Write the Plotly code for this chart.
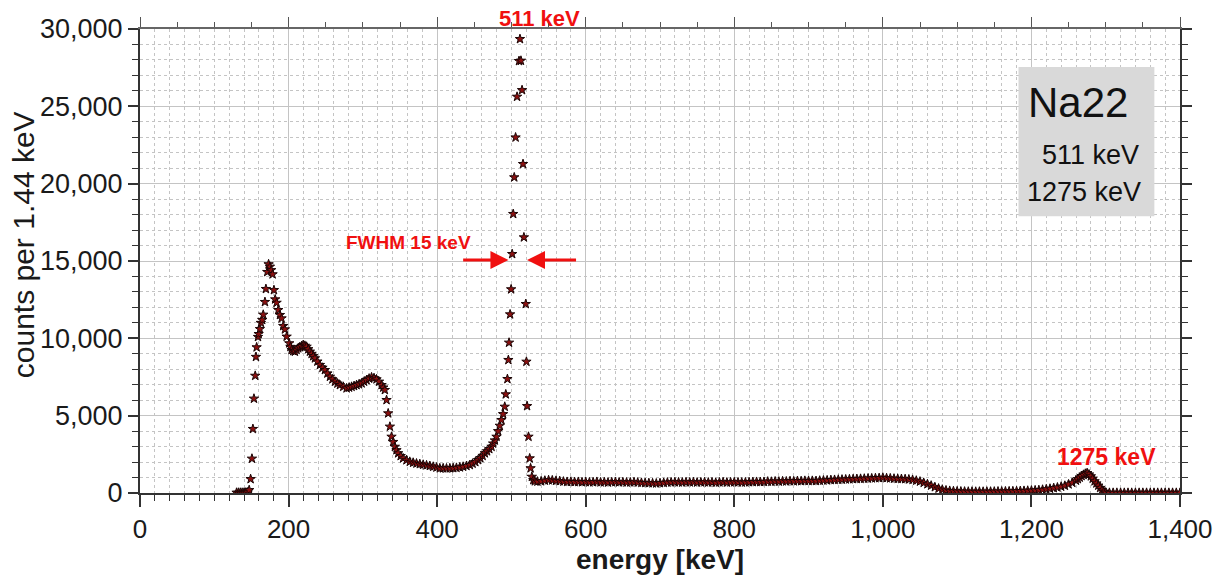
import plotly.graph_objects as go

# ---------------- data ----------------
# low-energy threshold + backscatter / Compton region (keV, counts per 1.44 keV)
e_low = [130.0, 132.5, 135.0, 137.5, 140.0, 142.5, 145.0, 147.0, 148.9, 150.7, 152.0, 153.4,
         155.1, 156.1, 157.0, 158.8, 159.7, 161.4, 162.8, 164.5, 165.9, 168.2, 169.5, 171.3,
         173.1, 174.9, 176.6, 178.5, 180.3, 182.0, 183.9, 186.1, 188.4, 190.6, 192.8, 195.1,
         197.4, 200.9, 202.5, 204.1, 206.3, 208.5, 210.8, 213.0, 215.2, 217.5, 219.7, 222.0,
         224.3, 226.5, 228.7, 231.0, 233.2, 235.5, 238.8, 242.2, 245.6, 248.9, 252.3, 255.7,
         259.0, 262.4, 265.8, 269.1, 273.6, 278.1, 281.5, 284.8, 288.2, 291.5, 294.9, 298.3,
         301.7, 305.0, 308.4, 311.7, 315.0, 318.4, 321.8, 325.2, 327.5, 329.6, 331.9, 334.1,
         336.4, 338.6, 340.8, 343.1, 345.3, 347.5, 350.9, 354.2, 358.7, 363.2, 367.7, 372.2,
         376.7, 381.2, 385.7, 390.2, 394.7, 399.1, 403.6, 408.1, 412.6, 417.1, 421.6, 426.0,
         430.5, 435.0, 439.5, 444.0, 447.7, 451.4, 455.1, 458.1, 461.2, 464.2, 467.2, 470.2,
         473.2, 475.4, 477.7, 479.9, 482.1, 484.3, 486.5, 488.8]
c_low = [20, 20, 20, 20, 20, 30, 40, 190, 900, 2220, 4140, 6100,
         7580, 8800, 9420, 10090, 10280, 10600, 11000, 11190, 11530, 12350, 13190, 14290,
         14790, 14630, 14410, 14140, 13120, 12520, 12300, 11830, 11510, 11290, 10800, 10580,
         10110, 9680, 9450, 9250, 9180, 9140, 9260, 9360, 9430, 9500, 9570, 9520,
         9460, 9300, 9140, 9000, 8850, 8710, 8500, 8280, 8100, 7950, 7730, 7520,
         7350, 7200, 7080, 6980, 6870, 6770, 6820, 6870, 6920, 6980, 7030, 7090,
         7200, 7300, 7400, 7480, 7430, 7350, 7200, 6980, 6820, 6660, 6010, 5150,
         4290, 3640, 3300, 2990, 2770, 2570, 2390, 2240, 2120, 2020, 1960, 1910,
         1870, 1830, 1790, 1750, 1700, 1650, 1600, 1600, 1590, 1600, 1610, 1630,
         1660, 1700, 1750, 1810, 1900, 2000, 2130, 2260, 2400, 2570, 2700, 2840,
         2990, 3200, 3400, 3640, 4000, 4350, 4720, 5100]

# 511 keV annihilation peak
e_511 = [491.0, 492.4, 494.6, 495.9, 496.8, 498.2, 499.6, 501.0, 502.4, 503.8, 505.6, 507.6,
         510.2, 511.5, 512.8, 514.3, 515.6, 516.8, 519.3, 520.2, 521.1, 523.0, 524.6, 525.8,
         527.5, 529.5, 531.5]
c_511 = [5580, 6380, 7370, 8600, 9720, 11550, 13170, 15450, 18040, 20410, 22990, 25620,
         27930, 29350, 27950, 26050, 21270, 16530, 12220, 8490, 5620, 3640, 2240, 1600,
         1050, 840, 760]

# Compton continuum of the 1275 keV line
e_cont = [535, 540, 545, 550, 555, 560, 565, 570, 575, 580, 585, 590, 595, 600, 605, 610,
          615, 620, 625, 630, 635, 640, 645, 650, 655, 660, 665, 670, 675, 680, 685, 690,
          695, 700, 705, 710, 715, 720, 725, 730, 735, 740, 745, 750, 755, 760, 765, 770,
          775, 780, 785, 790, 795, 800, 805, 810, 815, 820, 825, 830, 835, 840, 845, 850,
          855, 860, 865, 870, 875, 880, 885, 890, 895, 900, 905, 910, 915, 920, 925, 930,
          935, 940, 945, 950, 955, 960, 965, 970, 975, 980, 985, 990, 995, 1000, 1005, 1010,
          1015, 1020, 1025, 1030, 1035, 1040, 1045, 1050, 1055, 1060, 1065, 1070, 1075, 1080,
          1085, 1090, 1095, 1100, 1105, 1110, 1115, 1120, 1125, 1130, 1135, 1140, 1145, 1150,
          1155, 1160, 1165, 1170, 1175, 1180, 1185, 1190, 1195, 1200, 1205]
c_cont = [740, 760, 800, 830, 820, 790, 770, 740, 720, 730, 710, 720, 700, 710, 690, 700,
          720, 690, 700, 680, 700, 710, 690, 700, 680, 690, 700, 680, 660, 650, 640, 630,
          620, 640, 660, 680, 690, 700, 690, 680, 700, 690, 700, 680, 690, 700, 680, 690,
          670, 690, 700, 680, 690, 700, 690, 680, 690, 700, 710, 720, 710, 720, 740, 730,
          750, 740, 760, 750, 770, 760, 780, 770, 790, 780, 790, 780, 800, 810, 820, 840,
          850, 860, 870, 880, 890, 900, 910, 920, 930, 940, 950, 960, 970, 990, 960, 950,
          930, 920, 910, 900, 880, 850, 800, 740, 660, 570, 480, 380, 290, 220,
          170, 140, 120, 110, 100, 95, 90, 90, 85, 90, 85, 90, 90, 95,
          100, 100, 105, 110, 115, 120, 130, 140, 150, 160, 175]

# 1275 keV photopeak and empty tail
e_1275 = [1210, 1215, 1220, 1225, 1230, 1235, 1240, 1245, 1250, 1255, 1260, 1262.5, 1265,
          1267.5, 1270, 1272.5, 1275, 1277.5, 1280, 1282.5, 1285, 1287.5, 1290, 1292.5, 1295,
          1297.5, 1300, 1305, 1310, 1315, 1320, 1325, 1330, 1335, 1340, 1345, 1350, 1355,
          1360, 1365, 1370, 1375, 1380, 1385, 1390, 1395, 1400]
c_1275 = [190, 215, 245, 280, 320, 360, 410, 470, 560, 660, 800, 900, 1000,
          1100, 1180, 1250, 1290, 1200, 1080, 930, 760, 620, 480, 330, 190,
          90, 30, 15, 15, 15, 15, 15, 15, 15, 15, 15, 15, 15,
          15, 15, 15, 15, 15, 15, 15, 15, 15]

energy_kev = e_low + e_511 + e_cont + e_1275
counts = c_low + c_511 + c_cont + c_1275

x_ticks = [0, 200, 400, 600, 800, 1000, 1200, 1400]
y_ticks = [0, 5000, 10000, 15000, 20000, 25000, 30000]

RED = "#f01010"
FONT = "Liberation Sans, Arial, sans-serif"

fig = go.Figure()
fig.add_trace(go.Scatter(
    x=energy_kev, y=counts, mode="markers",
    marker=dict(symbol="star", size=7, color="#8c1010",
                line=dict(color="#1a0505", width=1)),
    showlegend=False, hoverinfo="x+y"))
# dummy trace to activate the top axis
fig.add_trace(go.Scatter(x=[None], y=[None], xaxis="x2", showlegend=False, hoverinfo="skip"))

grid_major = "#c4c4c4"
grid_minor = "#c4c4c4"

fig.update_layout(
    width=1216, height=579,
    margin=dict(l=140, r=36, t=29, b=86, autoexpand=False),
    plot_bgcolor="white", paper_bgcolor="white",
    font=dict(family=FONT, color="#1a1a1a"),
    xaxis=dict(
        range=[0, 1400], tickvals=x_ticks, tickformat=",", automargin=False,
        ticklabeloverflow="allow",
        ticks="outside", ticklen=12, tickwidth=1.5, tickcolor="#333",
        showline=True, linecolor="#333", linewidth=2,
        showgrid=True, gridcolor=grid_major, gridwidth=1, zeroline=False,
        minor=dict(dtick=20, tick0=0, ticks="outside", ticklen=6, tickwidth=1,
                   tickcolor="#333", showgrid=True, gridcolor=grid_minor,
                   griddash="3px,3px", gridwidth=1),
        tickfont=dict(family=FONT, size=26, color="#1a1a1a"),
        title=dict(text="<b>energy [keV]</b>", font=dict(family=FONT, size=28, color="#1a1a1a"),
                   standoff=4),
    ),
    xaxis2=dict(
        range=[0, 1400], overlaying="x", side="top", anchor="y", automargin=False,
        tickvals=x_ticks, ticks="outside", ticklen=10, tickwidth=1.2, tickcolor="#555",
        showline=True, linecolor="#666", linewidth=1.5,
        showticklabels=False, showgrid=False, zeroline=False,
        minor=dict(dtick=50, tick0=0, ticks="outside", ticklen=5, tickwidth=1,
                   tickcolor="#555", showgrid=False),
    ),
    yaxis=dict(
        range=[0, 30000], tickvals=y_ticks, tickformat=",", automargin=False,
        ticks="outside", ticklen=10, tickwidth=1.5, tickcolor="#333",
        showline=True, linecolor="#333", linewidth=2, mirror="ticks",
        showgrid=True, gridcolor=grid_major, gridwidth=1, zeroline=False,
        minor=dict(dtick=1000, tick0=0, ticks="outside", ticklen=6, tickwidth=1,
                   tickcolor="#333", showgrid=True, gridcolor=grid_minor,
                   griddash="3px,3px", gridwidth=1),
        tickfont=dict(family=FONT, size=27, color="#1a1a1a"),
    ),
)

# y-axis title (placed like the reference, slightly above the plot centre)
fig.add_annotation(x=-0.1125, y=0.534, xref="paper", yref="paper", text="counts per 1.44 keV",
                   textangle=-90, showarrow=False, xanchor="center", yanchor="middle",
                   font=dict(family=FONT, size=30, color="#1a1a1a"))

# grey info box
fig.add_shape(type="rect", xref="x", yref="y", x0=1182.6, x1=1365.5, y0=17900, y1=27540,
              fillcolor="#d9d9d9", line=dict(width=0), layer="above")
fig.add_annotation(x=1193, y=25250, xref="x", yref="y", text="Na22", showarrow=False,
                   xanchor="left", yanchor="middle",
                   font=dict(family=FONT, size=42, color="#111"))
fig.add_annotation(x=1348, y=21850, xref="x", yref="y", text="511 keV", showarrow=False,
                   xanchor="right", yanchor="middle",
                   font=dict(family=FONT, size=27, color="#111"))
fig.add_annotation(x=1350, y=19450, xref="x", yref="y", text="1275 keV", showarrow=False,
                   xanchor="right", yanchor="middle",
                   font=dict(family=FONT, size=27, color="#111"))

# red labels
fig.add_annotation(x=538, y=1.0237, xref="x", yref="paper", text="<b>511 keV</b>", showarrow=False,
                   xanchor="center", yanchor="middle",
                   font=dict(family=FONT, size=22, color=RED))
fig.add_annotation(x=361, y=16200, xref="x", yref="y", text="<b>FWHM 15 keV</b>", showarrow=False,
                   xanchor="center", yanchor="middle",
                   font=dict(family=FONT, size=19, color=RED))
fig.add_annotation(x=1301, y=2350, xref="x", yref="y", text="<b>1275 keV</b>", showarrow=False,
                   xanchor="center", yanchor="middle",
                   font=dict(family=FONT, size=23, color=RED))

# FWHM arrows
fig.add_annotation(x=496, y=15060, ax=433, ay=15060, xref="x", yref="y", axref="x", ayref="y",
                   text="", showarrow=True, arrowhead=2, arrowsize=1.2, arrowwidth=3,
                   arrowcolor=RED)
fig.add_annotation(x=521, y=15060, ax=589, ay=15060, xref="x", yref="y", axref="x", ayref="y",
                   text="", showarrow=True, arrowhead=2, arrowsize=1.2, arrowwidth=3,
                   arrowcolor=RED)

# remove the default 8 px page margin so the figure fills the window exactly
fig.write_html("out.html", config={"displayModeBar": False},
               post_script="document.body.style.margin='0';document.body.style.overflow='hidden';")
